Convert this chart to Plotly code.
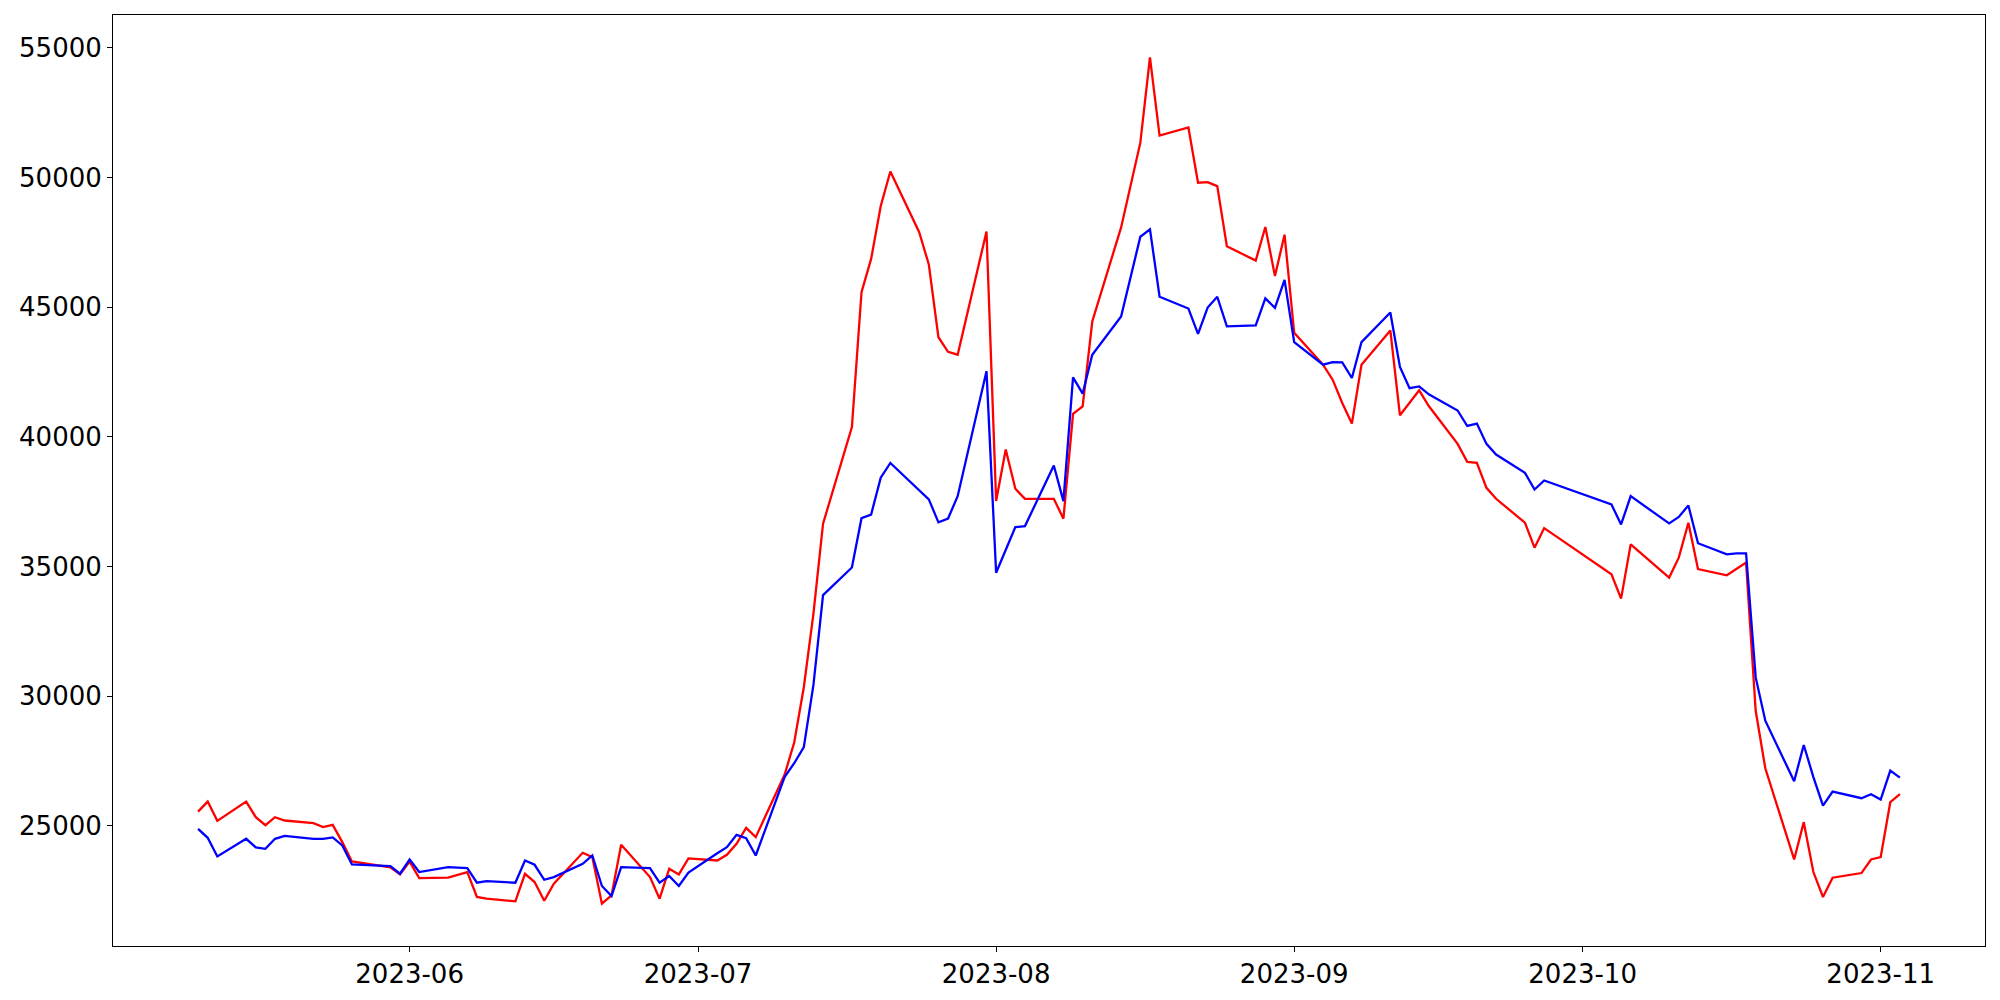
import plotly.graph_objects as go

dates = [
    "2023-05-10", "2023-05-11", "2023-05-12", "2023-05-15", "2023-05-16", "2023-05-17", "2023-05-18", "2023-05-19",
    "2023-05-22", "2023-05-23", "2023-05-24", "2023-05-25", "2023-05-26", "2023-05-30", "2023-05-31",
    "2023-06-01", "2023-06-02", "2023-06-05", "2023-06-07", "2023-06-08", "2023-06-09", "2023-06-12", "2023-06-13",
    "2023-06-14", "2023-06-15", "2023-06-16", "2023-06-19", "2023-06-20", "2023-06-21", "2023-06-22", "2023-06-23",
    "2023-06-26", "2023-06-27", "2023-06-28", "2023-06-29", "2023-06-30",
    "2023-07-03", "2023-07-04", "2023-07-05", "2023-07-06", "2023-07-07", "2023-07-10", "2023-07-11", "2023-07-12",
    "2023-07-13", "2023-07-14", "2023-07-17", "2023-07-18", "2023-07-19", "2023-07-20", "2023-07-21", "2023-07-24",
    "2023-07-25", "2023-07-26", "2023-07-27", "2023-07-28", "2023-07-31",
    "2023-08-01", "2023-08-02", "2023-08-03", "2023-08-04", "2023-08-07", "2023-08-08", "2023-08-09", "2023-08-10",
    "2023-08-11", "2023-08-14", "2023-08-16", "2023-08-17", "2023-08-18", "2023-08-21", "2023-08-22", "2023-08-23",
    "2023-08-24", "2023-08-25", "2023-08-28", "2023-08-29", "2023-08-30", "2023-08-31",
    "2023-09-01", "2023-09-04", "2023-09-05", "2023-09-06", "2023-09-07", "2023-09-08", "2023-09-11", "2023-09-12",
    "2023-09-13", "2023-09-14", "2023-09-15", "2023-09-18", "2023-09-19", "2023-09-20", "2023-09-21", "2023-09-22",
    "2023-09-25", "2023-09-26", "2023-09-27",
    "2023-10-04", "2023-10-05", "2023-10-06", "2023-10-10", "2023-10-11", "2023-10-12", "2023-10-13", "2023-10-16",
    "2023-10-17", "2023-10-18", "2023-10-19", "2023-10-20", "2023-10-23", "2023-10-24", "2023-10-25", "2023-10-26",
    "2023-10-27", "2023-10-30", "2023-10-31",
    "2023-11-01", "2023-11-02", "2023-11-03",
]

red_values = [
    25550, 25935, 25192, 25935, 25333, 25026, 25333, 25205,
    25103, 24949, 25038, 24372, 23627, 23400, 23126,
    23620, 22987, 23005, 23217, 22256, 22190, 22087, 23152,
    22832, 22113, 22767, 23961, 23794, 21998, 22317, 24269,
    23025, 22190, 23345, 23126, 23745,
    23664, 23884, 24307, 24923, 24564, 26971, 28214, 30346,
    33187, 36651, 40380, 45584, 46863, 48905, 50237, 47893,
    46649, 43843, 43280, 43170, 47920,
    37530, 39511, 37998, 37613, 37613, 36844, 40885, 41178,
    44450, 48078, 51347, 54638, 51620, 51932, 49800, 49827,
    49669, 47355, 46797, 48094, 46208, 47798,
    44013, 42783, 42206, 41308, 40512, 42783, 44104, 40832,
    41310, 41794, 41190, 39730, 39037, 38998, 38037, 37613,
    36690, 35727, 36482,
    34700, 33764, 35854, 34573, 35342, 36690, 34905, 34661,
    34892, 35150, 29438, 27221, 23703, 25142, 23218, 22256,
    22999, 23179, 23703,
    23795, 25912, 26220,
]

blue_values = [
    24885, 24538, 23820, 24500, 24166, 24115, 24500, 24615,
    24500, 24500, 24551, 24243, 23511, 23450, 23152,
    23700, 23217, 23408, 23370, 22806, 22870, 22806, 23664,
    23499, 22921, 23025, 23537, 23857, 22679, 22294, 23408,
    23370, 22806, 23064, 22679, 23200,
    23940, 24180, 24654, 24526, 23857, 26882, 27415, 28037,
    30435, 33898, 34963, 36864, 37006, 38427, 38995, 37947,
    37592, 36704, 36850, 37715, 42535,
    34758, 35662, 36521, 36559, 38895, 37521, 42294, 41667,
    43168, 44646, 47717, 48006, 45404, 44949, 43976, 44988,
    45404, 44261, 44300, 45339, 44977, 46055,
    43652, 42783, 42886, 42873, 42271, 43656, 44797, 42694,
    41878, 41948, 41640, 41018, 40420, 40512, 39730, 39319,
    38614, 37972, 38318,
    37394, 36624, 37714, 36663, 36913, 37356, 35900, 35470,
    35508, 35508, 30723, 29053, 26720, 28118, 26880, 25783,
    26322, 26066, 26220,
    26014, 27129, 26860,
]

y_ticks = [25000, 30000, 35000, 40000, 45000, 50000, 55000]

import pandas as pd
d = pd.to_datetime(dates)
span = d.max() - d.min()
x_range = [d.min() - span * 0.05, d.max() + span * 0.05]
all_vals = red_values + blue_values
vmin, vmax = min(all_vals), max(all_vals)
y_range = [vmin - (vmax - vmin) * 0.05, vmax + (vmax - vmin) * 0.05]

fig = go.Figure()
fig.add_trace(go.Scatter(x=dates, y=red_values, mode="lines", line=dict(color="#ff0000", width=2.3), name="red"))
fig.add_trace(go.Scatter(x=dates, y=blue_values, mode="lines", line=dict(color="#0000ff", width=2.3), name="blue"))

axis_common = dict(
    showgrid=False, zeroline=False, showline=True, linecolor="black", linewidth=1, mirror=True,
    ticks="outside", ticklen=5, tickwidth=1, tickcolor="black",
    tickfont=dict(family="DejaVu Sans", size=26, color="black"),
)
fig.update_xaxes(
    range=[x.strftime("%Y-%m-%d %H:%M:%S") for x in x_range],
    tickformat="%Y-%m", dtick="M1", tick0="2023-01-01", **axis_common,
)
fig.update_yaxes(range=y_range, tickvals=y_ticks, ticktext=[str(v) for v in y_ticks], **axis_common)

fig.update_layout(
    width=2000, height=1000, showlegend=False,
    margin=dict(l=113, r=15, t=15, b=54, pad=0),
    plot_bgcolor="white", paper_bgcolor="white",
    font=dict(family="DejaVu Sans", size=26, color="black"),
)

fig.write_html("out.html", config={"displayModeBar": False},
               post_script="document.body.style.margin='0';document.body.style.overflow='hidden';")
